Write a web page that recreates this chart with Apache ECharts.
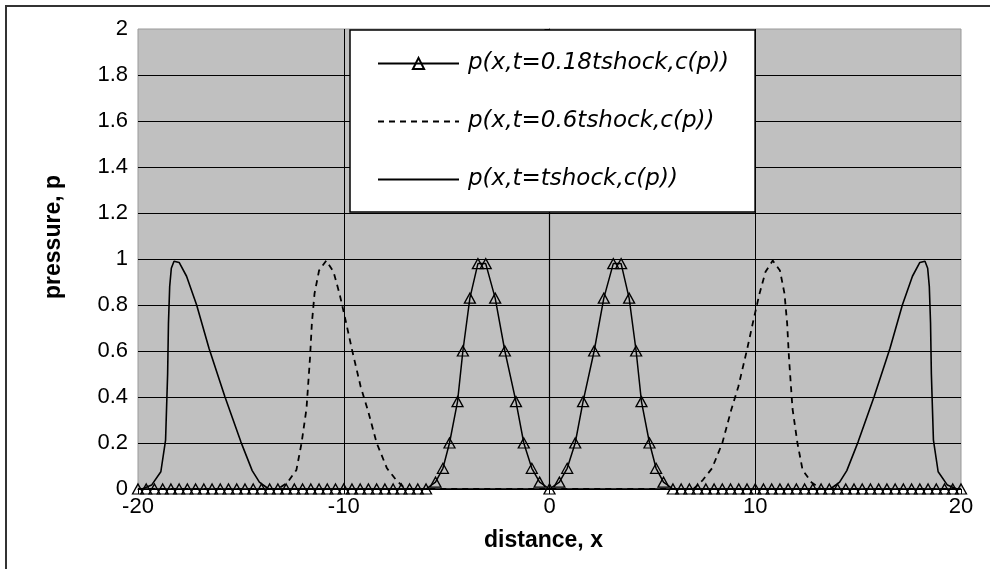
<!DOCTYPE html>
<html>
<head>
<meta charset="utf-8">
<script src="https://cdn.jsdelivr.net/npm/echarts@6/dist/echarts.min.js"></script>
<style>
    html, body { margin: 0; padding: 0; background: #fff; }
    #chart { width: 990px; height: 569px; }
</style>
</head>
<body>
<div id="chart"></div>
<script>
// series names
const names = ['p(x,t=0.18tshock,c(p))', 'p(x,t=0.6tshock,c(p))', 'p(x,t=tshock,c(p))']

// t = 0.18 tshock (triangles)
const triX = [
    -20, -19.6, -19.2, -18.8, -18.4, -18, -17.6, -17.2, -16.8, -16.4, -16, -15.6,
    -15.2, -14.8, -14.4, -14, -13.6, -13.2, -12.8, -12.4, -12, -11.6, -11.2, -10.8,
    -10.4, -10, -9.6, -9.2, -8.8, -8.4, -8, -7.6, -7.2, -6.8, -6.4, -6,
    -5.54, -5.18, -4.86, -4.47, -4.21, -3.87, -3.48, -3.1, -2.64, -2.17, -1.63, -1.25, -0.86, -0.48,
    0,
    0.48, 0.86, 1.25, 1.63, 2.17, 2.64, 3.1, 3.48, 3.87, 4.21, 4.47, 4.86, 5.18, 5.54,
    6, 6.4, 6.8, 7.2, 7.6, 8, 8.4, 8.8, 9.2, 9.6, 10, 10.4, 10.8, 11.2, 11.6, 12,
    12.4, 12.8, 13.2, 13.6, 14, 14.4, 14.8, 15.2, 15.6, 16, 16.4, 16.8, 17.2, 17.6, 18,
    18.4, 18.8, 19.2, 19.6, 20
]
const triP = [
    0, 0, 0, 0, 0, 0, 0, 0, 0, 0, 0, 0, 0, 0, 0, 0, 0, 0,
    0, 0, 0, 0, 0, 0, 0, 0, 0, 0, 0, 0, 0, 0, 0, 0, 0, 0,
    0.03, 0.09, 0.2, 0.38, 0.6, 0.83, 0.98, 0.98, 0.83, 0.6, 0.38, 0.2, 0.09, 0.03,
    0,
    0.03, 0.09, 0.2, 0.38, 0.6, 0.83, 0.98, 0.98, 0.83, 0.6, 0.38, 0.2, 0.09, 0.03,
    0, 0, 0, 0, 0, 0, 0, 0, 0, 0, 0, 0, 0, 0, 0, 0, 0, 0,
    0, 0, 0, 0, 0, 0, 0, 0, 0, 0, 0, 0, 0, 0, 0, 0, 0, 0
]

// t = 0.6 tshock (dashed)
const dashX = [
    -20, -13.2, -12.74, -12.3, -12.05, -11.81, -11.64, -11.55, -11.42, -11.2, -10.85,
    -10.5, -10.2, -9.91, -9.6, -9.18, -8.82, -8.4, -7.9, -7.45, -7,
    7, 7.45, 7.9, 8.4, 8.82, 9.18, 9.6, 9.91, 10.2, 10.5,
    10.85, 11.2, 11.42, 11.55, 11.64, 11.81, 12.05, 12.3, 12.74, 13.2, 20
]
const dashP = [
    0, 0, 0.028, 0.083, 0.2, 0.35, 0.57, 0.72, 0.85, 0.95, 0.993,
    0.945, 0.847, 0.733, 0.606, 0.446, 0.34, 0.2, 0.09, 0.039, 0,
    0, 0.039, 0.09, 0.2, 0.34, 0.446, 0.606, 0.733, 0.847, 0.945,
    0.993, 0.95, 0.85, 0.72, 0.57, 0.35, 0.2, 0.083, 0.028, 0, 0
]

// t = tshock (solid)
const solidX = [
    -20, -19.8, -19.34, -18.89, -18.66, -18.56, -18.52, -18.46, -18.38, -18.25, -18,
    -17.64, -17.15, -16.55, -15.78, -15, -14.45, -14.1, -13.65,
    13.65, 14.1, 14.45, 15, 15.78, 16.55, 17.15, 17.64,
    18, 18.25, 18.38, 18.46, 18.52, 18.56, 18.66, 18.89, 19.34, 19.8, 20
]
const solidP = [
    0, 0, 0.017, 0.075, 0.213, 0.5, 0.72, 0.88, 0.96, 0.99, 0.985,
    0.925, 0.8, 0.612, 0.402, 0.205, 0.08, 0.03, 0,
    0, 0.03, 0.08, 0.205, 0.402, 0.612, 0.8, 0.925,
    0.985, 0.99, 0.96, 0.88, 0.72, 0.5, 0.213, 0.075, 0.017, 0, 0
]

const pairs = (xs, ys) => xs.map((x, i) => [x, ys[i]])

const chart = echarts.init(document.getElementById('chart'))
chart.setOption({
    animation: false,
    backgroundColor: '#fff',
    textStyle: { fontFamily: 'Liberation Sans, Arial, sans-serif' },
    grid: {
        left: 138, right: 29, top: 29, bottom: 80,
        show: true,
        backgroundColor: '#c0c0c0',
        borderColor: '#999',
        borderWidth: 1
    },
    legend: {
        left: 350,
        top: 30,
        orient: 'vertical',
        backgroundColor: '#fff',
        borderColor: '#000',
        borderWidth: 1.5,
        padding: [22, 26, 21, 27],
        itemWidth: 81,
        itemHeight: 14,
        itemGap: 35,
        textStyle: {
            fontFamily: 'DejaVu Sans',
            fontStyle: 'italic',
            fontSize: 23,
            color: '#000',
            padding: [0, 0, 0, 4]
        },
        data: names
    },
    xAxis: {
        type: 'value',
        min: -20,
        max: 20,
        interval: 10,
        name: 'distance, x',
        nameLocation: 'middle',
        nameGap: 40,
        nameTextStyle: { fontSize: 23, fontWeight: 'bold', color: '#000', padding: [0, 12, 0, 0] },
        axisLine: { lineStyle: { color: '#000', width: 1.2 } },
        axisTick: { show: true, length: 5, lineStyle: { color: '#000' } },
        axisLabel: { fontSize: 22, color: '#000', margin: 7 },
        splitLine: { show: true, showMinLine: false, showMaxLine: false, lineStyle: { color: '#000', width: 1 } }
    },
    yAxis: {
        type: 'value',
        min: 0,
        max: 2,
        interval: 0.2,
        axisLine: { show: true, lineStyle: { color: '#000', width: 1.2 } },
        axisTick: { show: true, length: 5, lineStyle: { color: '#000' } },
        axisLabel: { fontSize: 22, color: '#000', margin: 10 },
        splitLine: { show: true, showMinLine: false, showMaxLine: false, lineStyle: { color: '#000', width: 1 } }
    },
    graphic: [
        {
            type: 'text',
            x: 54, y: 237,
            rotation: Math.PI / 2,
            style: {
                text: 'pressure, p',
                font: 'bold 23px Liberation Sans, Arial, sans-serif',
                fill: '#000',
                align: 'center',
                verticalAlign: 'middle'
            }
        },
        {
            type: 'rect',
            shape: { x: 6, y: 6, width: 1000, height: 600 },
            style: { fill: 'none', stroke: '#333', lineWidth: 2 }
        }
    ],
    series: [
        {
            name: names[0],
            type: 'line',
            data: pairs(triX, triP),
            symbol: 'triangle',
            symbolSize: [11, 10],
            showAllSymbol: true,
            itemStyle: { color: 'rgba(0,0,0,0)', borderColor: '#000', borderWidth: 1.3 },
            lineStyle: { color: '#000', width: 1.5 },
            z: 4
        },
        {
            name: names[1],
            type: 'line',
            data: pairs(dashX, dashP),
            showSymbol: false,
            symbol: 'none',
            itemStyle: { color: 'rgba(0,0,0,0)', borderWidth: 0 },
            lineStyle: { color: '#000', width: 1.8, type: [6, 5] },
            z: 3
        },
        {
            name: names[2],
            type: 'line',
            data: pairs(solidX, solidP),
            showSymbol: false,
            symbol: 'none',
            itemStyle: { color: 'rgba(0,0,0,0)', borderWidth: 0 },
            lineStyle: { color: '#000', width: 1.6 },
            z: 3
        }
    ]
})
</script>
</body>
</html>
